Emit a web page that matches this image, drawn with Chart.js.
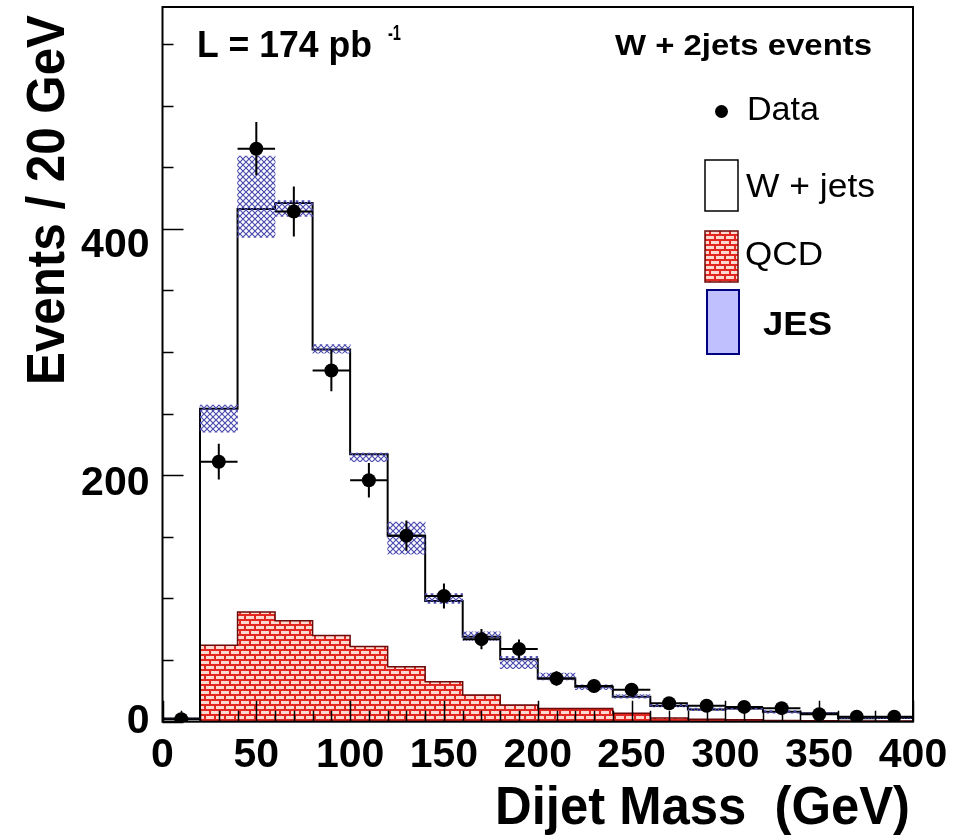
<!DOCTYPE html>
<html>
<head>
<meta charset="utf-8">
<script src="https://cdn.jsdelivr.net/npm/chart.js@4.4.1/dist/chart.umd.min.js"></script>
<style>
  html, body { margin: 0; padding: 0; background: #ffffff; }
  #wrap { width: 967px; height: 837px; }
</style>
</head>
<body>
<div id="wrap"><canvas id="c" width="967" height="837"></canvas></div>
<script>
// Dijet mass, W + 2 jets selection: 20 GeV bins from 0 to 400 GeV
const binLow   = [0, 20, 40, 60, 80, 100, 120, 140, 160, 180, 200, 220, 240, 260, 280, 300, 320, 340, 360, 380];
const binWidth = 20;

// observed events and their statistical errors
const dataCounts = [2, 211, 465, 414, 285, 196, 151, 102, 67, 59, 35, 29, 26, 15, 13, 12, 11, 6, 4, 4];
const dataErrors = [1.4, 14.5, 21.6, 20.3, 16.9, 14.0, 12.3, 10.1, 8.2, 7.7, 5.9, 5.4, 5.1, 3.9, 3.6, 3.5, 3.3, 2.4, 2.0, 2.0];

// stacked prediction: QCD + W + jets (outline), and the QCD part alone
const stackTotal = [2.5, 254, 416, 421, 302, 217, 151, 98, 69, 50.6, 35, 28.4, 20.3, 12.7, 10, 10.8, 8, 6.8, 2.8, 3];
const qcdCounts  = [0, 62, 89, 82, 70, 61, 44.6, 32.4, 21.6, 13.5, 10.8, 10.8, 6.8, 3, 2, 1.5, 1, 0.8, 0.5, 0.5];

// jet energy scale band around the prediction
const jesLow  = [2, 235, 393, 410, 299, 211, 136, 96, 66, 43, 34, 26, 19, 12, 9, 10, 7, 6, 2.5, 2.5];
const jesHigh = [3, 257, 459, 423, 306, 218, 162, 104, 73, 53, 39.5, 30, 22, 14, 11, 12, 9, 7.5, 3.5, 3.5];

// axis ticks
const xTickLabels = ['0', '50', '100', '150', '200', '250', '300', '350', '400'];
const yTickLabels = ['0', '200', '400'];

const FONT = "'Liberation Sans', Arial, Helvetica, sans-serif";

// ---- fill patterns -------------------------------------------------------
function brickPattern(ctx) {
  const t = document.createElement('canvas');
  t.width = 10; t.height = 10;
  const g = t.getContext('2d');
  g.fillStyle = '#e3261f';
  g.fillRect(0, 0, 10, 10);
  g.fillStyle = '#ffd9cf';
  g.fillRect(1, 1, 8, 3);
  g.fillRect(6, 6, 4, 3);
  g.fillRect(0, 6, 4, 3);
  return ctx.createPattern(t, 'repeat');
}
function hatchPattern(ctx) {
  const t = document.createElement('canvas');
  t.width = 6; t.height = 6;
  const g = t.getContext('2d');
  g.strokeStyle = '#4b4bb0';
  g.lineWidth = 1.2;
  g.beginPath();
  g.moveTo(0, 0); g.lineTo(6, 6);
  g.moveTo(6, 0); g.lineTo(0, 6);
  g.stroke();
  return ctx.createPattern(t, 'repeat');
}

const canvas = document.getElementById('c');
const ctx0 = canvas.getContext('2d');
const brick = brickPattern(ctx0);
const hatch = hatchPattern(ctx0);

// ---- step histograms built from the bin arrays ---------------------------
const xMax = binLow[binLow.length - 1] + binWidth;
function stepPoints(values) {
  const pts = binLow.map((lo, i) => ({ x: lo, y: values[i] }));
  pts.push({ x: xMax, y: values[values.length - 1] });
  return pts;
}
const centers = binLow.map(lo => lo + binWidth / 2);

const datasets = [
  {
    label: 'Data',
    type: 'line',
    data: centers.map((x, i) => ({ x: x, y: dataCounts[i] })),
    showLine: false,
    pointRadius: 7,
    pointHoverRadius: 7,
    pointBackgroundColor: '#000000',
    pointBorderColor: '#000000',
    pointBorderWidth: 0,
    order: 0
  },
  {
    label: 'JES',
    type: 'bar',
    data: centers.map((x, i) => ({ x: x, y: [jesLow[i], jesHigh[i]] })),
    backgroundColor: hatch,
    borderWidth: 0,
    barPercentage: 1.0,
    categoryPercentage: 1.0,
    order: 1
  },
  {
    label: 'W + jets',
    type: 'line',
    data: stepPoints(stackTotal),
    stepped: 'before',
    borderColor: '#000000',
    borderWidth: 2,
    pointRadius: 0,
    fill: false,
    order: 2
  },
  {
    label: 'QCD',
    type: 'line',
    data: stepPoints(qcdCounts),
    stepped: 'before',
    borderColor: '#6b0a0a',
    borderWidth: 1.5,
    pointRadius: 0,
    backgroundColor: brick,
    fill: 'origin',
    order: 3
  }
];

// ---- helpers for text drawn in the frame ---------------------------------
function fitText(ctx, text, x, y, font, width) {
  ctx.save();
  ctx.font = font;
  ctx.textAlign = 'left';
  ctx.textBaseline = 'alphabetic';
  const w = ctx.measureText(text).width;
  ctx.translate(x, y);
  ctx.scale(width / w, 1);
  ctx.fillStyle = '#000000';
  ctx.fillText(text, 0, 0);
  ctx.restore();
}

const decorations = {
  id: 'decorations',
  afterDatasetsDraw(chart) {
    const { ctx, scales: { x, y } } = chart;
    // error bars on the data points
    ctx.save();
    ctx.strokeStyle = '#000000';
    ctx.lineWidth = 2;
    ctx.beginPath();
    centers.forEach((c, i) => {
      const px = x.getPixelForValue(c);
      const py = y.getPixelForValue(dataCounts[i]);
      ctx.moveTo(px, y.getPixelForValue(dataCounts[i] - dataErrors[i]));
      ctx.lineTo(px, y.getPixelForValue(dataCounts[i] + dataErrors[i]));
      ctx.moveTo(x.getPixelForValue(binLow[i]), py);
      ctx.lineTo(x.getPixelForValue(binLow[i] + binWidth), py);
    });
    ctx.stroke();
    ctx.restore();
  },
  afterDraw(chart) {
    const { ctx, chartArea: a, scales: { x, y } } = chart;
    ctx.save();
    // frame
    ctx.strokeStyle = '#000000';
    ctx.lineWidth = 2;
    ctx.strokeRect(a.left, a.top, a.right - a.left, a.bottom - a.top);
    // inward ticks
    ctx.lineWidth = 1.5;
    ctx.beginPath();
    for (let v = 0; v <= y.max; v += 50) {
      const py = Math.round(y.getPixelForValue(v)) + 0.5;
      const len = v % 200 === 0 ? 21 : 11;
      ctx.moveTo(a.left, py);
      ctx.lineTo(a.left + len, py);
    }
    for (let v = 0; v <= x.max; v += 10) {
      const px = Math.round(x.getPixelForValue(v)) + 0.5;
      const len = v % 50 === 0 ? 21 : 11;
      ctx.moveTo(px, a.bottom);
      ctx.lineTo(px, a.bottom - len);
    }
    ctx.stroke();

    // axis titles
    ctx.save();
    ctx.translate(64, 385);
    ctx.rotate(-Math.PI / 2);
    fitText(ctx, 'Events / 20 GeV', 0, 0, 'bold 54px ' + FONT, 370);
    ctx.restore();
    fitText(ctx, 'Dijet Mass  (GeV)', 495, 824, 'bold 53px ' + FONT, 415);

    // luminosity and selection
    fitText(ctx, 'L = 174 pb', 197, 57, 'bold 37px ' + FONT, 175);
    fitText(ctx, '-1', 388, 40, 'bold 22px ' + FONT, 13);
    fitText(ctx, 'W + 2jets events', 615, 55, 'bold 30px ' + FONT, 257);

    // legend
    ctx.fillStyle = '#000000';
    ctx.beginPath();
    ctx.arc(721.5, 111.5, 6.5, 0, Math.PI * 2);
    ctx.fill();
    fitText(ctx, 'Data', 747, 120, '33px ' + FONT, 72);

    ctx.fillStyle = '#ffffff';
    ctx.fillRect(705, 160, 33, 51);
    ctx.strokeStyle = '#000000';
    ctx.lineWidth = 1.5;
    ctx.strokeRect(705, 160, 33, 51);
    fitText(ctx, 'W + jets', 746, 197, '33px ' + FONT, 129);

    ctx.fillStyle = brick;
    ctx.fillRect(705, 231, 33, 51);
    ctx.strokeStyle = '#6b0a0a';
    ctx.strokeRect(705, 231, 33, 51);
    fitText(ctx, 'QCD', 745, 265, '34px ' + FONT, 78);

    ctx.fillStyle = '#c0c0ff';
    ctx.fillRect(707, 290, 32, 64);
    ctx.strokeStyle = '#000080';
    ctx.lineWidth = 2;
    ctx.strokeRect(707, 290, 32, 64);
    fitText(ctx, 'JES', 763, 335, 'bold 34px ' + FONT, 69);
    ctx.restore();
  }
};

new Chart(canvas, {
  type: 'line',
  data: { datasets: datasets },
  options: {
    responsive: false,
    animation: false,
    devicePixelRatio: 1,
    layout: { padding: { top: 6.5, right: 54, bottom: 0, left: 0 } },
    plugins: { legend: { display: false }, tooltip: { enabled: false } },
    scales: {
      x: {
        type: 'linear',
        min: 0,
        max: 400,
        offset: false,
        grid: { display: false },
        border: { display: false },
        afterFit(scale) {
          scale.height = 115.3;
          scale.paddingLeft = 0;
          scale.paddingRight = 0;
        },
        ticks: {
          stepSize: 50,
          autoSkip: false,
          maxRotation: 0,
          padding: 1,
          color: '#000000',
          font: { family: FONT, size: 41, weight: 'bold' },
          callback: (v, i) => xTickLabels[i]
        }
      },
      y: {
        type: 'linear',
        min: 0,
        max: 580,
        grid: { display: false },
        border: { display: false },
        afterFit(scale) {
          scale.width = 162.5;
          scale.paddingTop = 0;
          scale.paddingBottom = 0;
        },
        ticks: {
          stepSize: 200,
          includeBounds: false,
          autoSkip: false,
          padding: 5,
          color: '#000000',
          font: { family: FONT, size: 41, weight: 'bold' },
          callback: (v, i) => yTickLabels[i]
        }
      }
    }
  },
  plugins: [decorations]
});
</script>
</body>
</html>
